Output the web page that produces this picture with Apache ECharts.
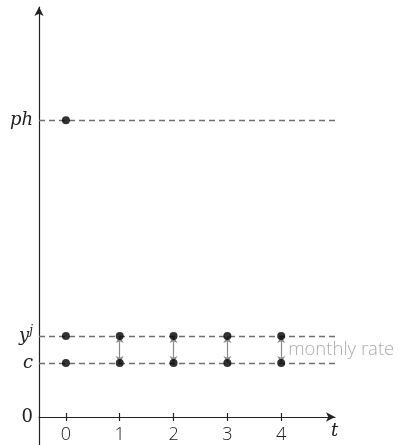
<!DOCTYPE html>
<html><head><meta charset="utf-8">
<script src="https://cdn.jsdelivr.net/npm/echarts@6/dist/echarts.min.js"></script>
<style>html,body{margin:0;padding:0;background:#fff}#c{width:398px;height:445px}</style>
</head><body><div id="c"></div>
<script>
// Data
var periods = [0, 1, 2, 3, 4];
var levelC = 1;      // c
var levelY = 1.5;    // y^j
var levelPh = 5.5;   // ph
var yTickValues = [0, levelC, levelY, levelPh];
var yTickNames = ['0', 'c', 'yj', 'ph'];
var xTickValues = [0, 1, 2, 3, 4];
var ratePeriods = [1, 2, 3, 4];
var rateLabel = 'monthly rate';

var sans = '"Open Sans", sans-serif';
var serif = '"DejaVu Serif", "Liberation Serif", serif';
var ink = '#222';

var dots = [[0, levelPh]];
periods.forEach(function (t) { dots.push([t, levelY]); dots.push([t, levelC]); });

var arrows = ratePeriods.map(function (t) {
  return [{ coord: [t, levelC] }, { coord: [t, levelY] }];
});

var chart = echarts.init(document.getElementById('c'), null, { renderer: 'canvas' });
chart.setOption({
  animation: false,
  grid: [
    { left: 39, right: 63, top: 7, bottom: 28, containLabel: false, outerBoundsMode: 'none' },
    { left: 39, right: 63, top: 417, bottom: 0, containLabel: false, outerBoundsMode: 'none' }
  ],
  xAxis: [{
    gridIndex: 0, type: 'value', min: -0.5, max: 5, position: 'bottom',
    axisLine: { onZero: false, symbol: ['none', 'arrow'], symbolSize: [7, 9],
      lineStyle: { color: ink, width: 1.2 } },
    axisTick: { show: true, customValues: xTickValues, length: 4, lineStyle: { color: ink, width: 1.2 } },
    axisLabel: { customValues: xTickValues, margin: 9, fontFamily: sans, fontSize: 18, fontWeight: 300, color: ink },
    splitLine: { show: false },
    name: 't', nameLocation: 'end', nameGap: -4,
    nameTextStyle: { fontFamily: serif, fontStyle: 'italic', fontSize: 18, color: ink,
      verticalAlign: 'top', padding: [5, 0, 0, 0] }
  }, {
    gridIndex: 0, type: 'value', min: -0.5, max: 5, position: 'bottom',
    axisLine: { show: false, onZero: false },
    axisTick: { show: true, inside: true, customValues: xTickValues, length: 4, lineStyle: { color: ink, width: 1.2 } },
    axisLabel: { show: false },
    splitLine: { show: false }
  }, {
    gridIndex: 1, type: 'value', min: 0, max: 1, show: false
  }],
  yAxis: [{
    gridIndex: 0, type: 'value', min: 0, max: 7.6,
    axisLine: { onZero: false, symbol: ['none', 'arrow'], symbolSize: [7, 9],
      lineStyle: { color: ink, width: 1.2 } },
    axisTick: { show: false },
    splitLine: { show: false },
    axisLabel: {
      customValues: yTickValues, margin: 6,
      formatter: function (v) {
        var i = yTickValues.indexOf(v);
        var n = yTickNames[i];
        if (n === 'yj') return '{it|y}{sup|j}';
        if (n === '0') return '{num|0}';
        return '{it|' + n + '}';
      },
      rich: {
        it: { fontFamily: serif, fontStyle: 'italic', fontSize: 18, color: ink },
        sup: { fontFamily: serif, fontStyle: 'italic', fontSize: 12, color: ink, verticalAlign: 'top', padding: [0, 0, 10, 0] },
        num: { fontFamily: serif, fontSize: 18, color: ink }
      }
    }
  }, {
    gridIndex: 1, type: 'value', min: 0, max: 1,
    axisLine: { show: true, onZero: false, lineStyle: { color: ink, width: 1.2 } },
    axisTick: { show: false }, axisLabel: { show: false }, splitLine: { show: false }
  }],
  series: [{
    type: 'scatter',
    data: dots,
    symbol: 'circle', symbolSize: 8,
    itemStyle: { color: '#000' },
    z: 5,
    markLine: {
      silent: true, symbol: 'none',
      lineStyle: { type: [6, 4], color: '#707070', width: 1.4 },
      label: { show: false },
      data: [{ yAxis: levelPh }, { yAxis: levelY }, { yAxis: levelC }]
    }
  }, {
    type: 'scatter',
    data: [],
    markLine: {
      silent: true, symbol: ['arrow', 'arrow'], symbolSize: [6, 7],
      lineStyle: { type: 'solid', color: '#8a8a8a', width: 1.2 },
      label: { show: false },
      data: arrows
    }
  }, {
    type: 'scatter',
    data: [[ratePeriods[ratePeriods.length - 1], (levelC + levelY) / 2]],
    symbolSize: 0,
    label: { show: true, position: 'right', distance: 7, formatter: rateLabel,
      fontFamily: sans, fontSize: 18.5, fontWeight: 300, color: '#999' }
  }]
});
</script></body></html>
